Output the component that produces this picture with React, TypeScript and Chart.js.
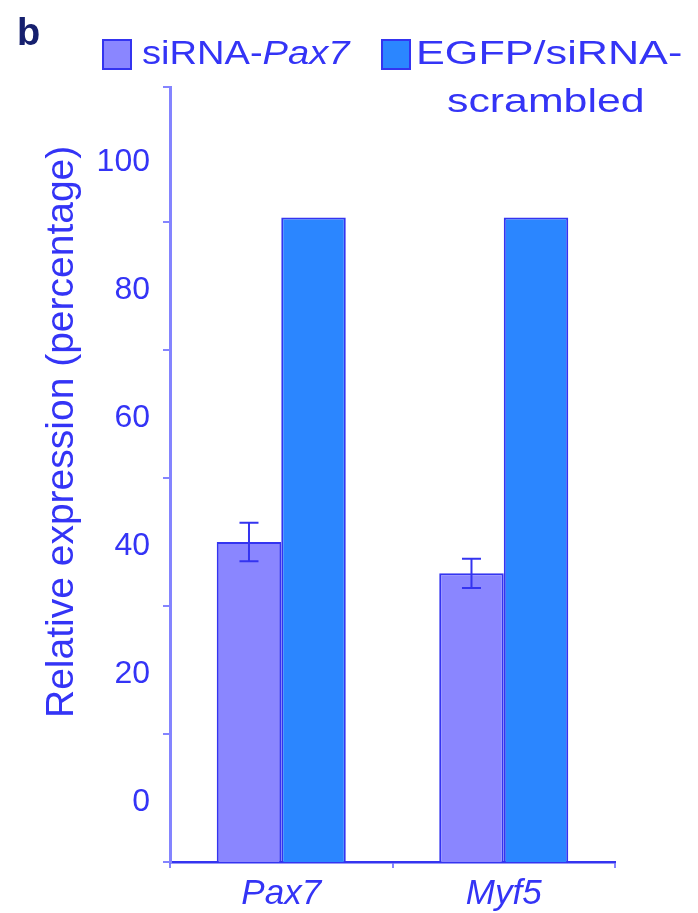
import React, { useEffect, useRef } from 'react';
import { Chart, registerables } from 'chart.js';

Chart.register(...registerables);

// ---- data ----
const categories = ['Pax7', 'Myf5'];
const siRNAPax7Values = [40.6, 35.7];
const siRNAPax7Errors = [3.0, 2.3];
const egfpScrambledValues = [91.3, 91.3];
const yTickLabels = [0, 20, 40, 60, 80, 100];
const yTickMarks = [-9.4, 10.6, 30.6, 50.6, 70.6, 90.6, 111.7];
const yMin = -9.4;
const yMax = 111.7;

// ---- style ----
const FONT = "'Liberation Sans', Arial, Helvetica, sans-serif";
const TEXT = '#3434f6';
const LAVENDER = '#8a86ff';
const BLUE = '#2b86ff';
const EDGE = '#3434f0';
const AXIS_LIGHT = '#8484ff';

const errorBarPlugin = {
  id: 'errorBars',
  afterDatasetsDraw(chart: any) {
    const ctx = chart.ctx;
    const yScale = chart.scales.y;
    chart.data.datasets.forEach((ds: any, i: number) => {
      const errs = ds.errors;
      if (!errs) return;
      const meta = chart.getDatasetMeta(i);
      meta.data.forEach((el: any, j: number) => {
        const v = ds.data[j];
        const e = errs[j];
        if (e == null) return;
        const x = el.x;
        const top = yScale.getPixelForValue(v + e);
        const bot = yScale.getPixelForValue(v - e);
        const half = 9.5;
        ctx.save();
        ctx.strokeStyle = EDGE;
        ctx.lineWidth = 2;
        ctx.beginPath();
        ctx.moveTo(x, top);
        ctx.lineTo(x, bot);
        ctx.moveTo(x - half, top);
        ctx.lineTo(x + half, top);
        ctx.moveTo(x - half, bot);
        ctx.lineTo(x + half, bot);
        ctx.stroke();
        ctx.restore();
      });
    });
  },
};

export default function App() {
  const canvasRef = useRef<HTMLCanvasElement | null>(null);

  useEffect(() => {
    if (!canvasRef.current) return;
    const chart = new Chart(canvasRef.current, {
      type: 'bar',
      data: {
        labels: categories,
        datasets: [
          {
            label: 'siRNA-Pax7',
            data: siRNAPax7Values,
            errors: siRNAPax7Errors,
            backgroundColor: LAVENDER,
            borderColor: EDGE,
            borderWidth: 2,
            base: yMin,
            yAxisID: 'y',
          } as any,
          {
            label: 'EGFP/siRNA-scrambled',
            data: egfpScrambledValues,
            backgroundColor: BLUE,
            borderColor: EDGE,
            borderWidth: 2,
            base: yMin,
            yAxisID: 'y',
          } as any,
        ],
      },
      options: {
        responsive: false,
        animation: false,
        maintainAspectRatio: false,
        layout: { padding: { top: 87, right: 83, left: 0, bottom: 0 } },
        plugins: {
          legend: { display: false },
          tooltip: { enabled: false },
          title: { display: false },
        },
        datasets: { bar: { categoryPercentage: 0.58, barPercentage: 1.0 } },
        scales: {
          x: {
            type: 'category',
            offset: true,
            grid: {
              drawOnChartArea: false,
              drawTicks: true,
              tickLength: 6,
              color: AXIS_LIGHT,
              lineWidth: 2,
              offset: true,
            },
            border: { display: true, color: EDGE, width: 2.5 },
            ticks: {
              color: TEXT,
              padding: 5,
              font: { family: FONT, size: 35, style: 'italic' },
            },
            afterFit(scale: any) {
              scale.height = 51;
            },
          },
          y: {
            type: 'linear',
            position: 'left',
            weight: 1,
            min: yMin,
            max: yMax,
            grid: { display: false, drawTicks: false },
            border: { display: false },
            ticks: {
              color: TEXT,
              padding: 10,
              font: { family: FONT, size: 32 },
            },
            afterBuildTicks(scale: any) {
              scale.ticks = yTickLabels.map((v) => ({ value: v }));
            },
            afterFit(scale: any) {
              scale.width = 160;
            },
          },
          y2: {
            type: 'linear',
            position: 'left',
            weight: 0,
            min: yMin,
            max: yMax,
            grid: {
              drawOnChartArea: false,
              drawTicks: true,
              tickLength: 7,
              color: AXIS_LIGHT,
              lineWidth: 2,
            },
            border: { display: true, color: AXIS_LIGHT, width: 3 },
            ticks: { display: false },
            afterBuildTicks(scale: any) {
              scale.ticks = yTickMarks.map((v) => ({ value: v }));
            },
            afterFit(scale: any) {
              scale.width = 10;
            },
          },
        },
      } as any,
      plugins: [errorBarPlugin],
    });
    return () => chart.destroy();
  }, []);

  const textBase: React.CSSProperties = {
    position: 'absolute',
    fontFamily: FONT,
    color: TEXT,
    lineHeight: 1,
    whiteSpace: 'nowrap',
    margin: 0,
  };

  return (
    <div style={{ position: 'absolute', left: 0, top: 0, width: 698, height: 913, background: '#ffffff' }}>
      <canvas ref={canvasRef} width={698} height={913} style={{ position: 'absolute', left: 0, top: 0, width: 698, height: 913 }} />
      <div style={{ ...textBase, left: 17, top: 13, fontSize: 38, fontWeight: 'bold', color: '#16206e' }}>b</div>
      {/* legend */}
      <div style={{ position: 'absolute', left: 102, top: 39, width: 26, height: 27, background: LAVENDER, border: `2px solid ${EDGE}` }} />
      <div style={{ ...textBase, left: 142, top: 35, fontSize: 34, transform: 'scaleX(1.12)', transformOrigin: 'left top' }}>
        siRNA-<i>Pax7</i>
      </div>
      <div style={{ position: 'absolute', left: 381, top: 39, width: 26, height: 27, background: BLUE, border: `2px solid ${EDGE}` }} />
      <div style={{ ...textBase, left: 416, top: 35, fontSize: 34, transform: 'scaleX(1.27)', transformOrigin: 'left top' }}>
        EGFP/siRNA-
      </div>
      <div style={{ ...textBase, left: 447, top: 83, fontSize: 34, transform: 'scaleX(1.26)', transformOrigin: 'left top' }}>
        scrambled
      </div>
      {/* y axis title */}
      <div style={{ ...textBase, left: 40, top: 718, fontSize: 39, transform: 'rotate(-90deg)', transformOrigin: 'left top' }}>
        Relative expression (percentage)
      </div>
    </div>
  );
}
